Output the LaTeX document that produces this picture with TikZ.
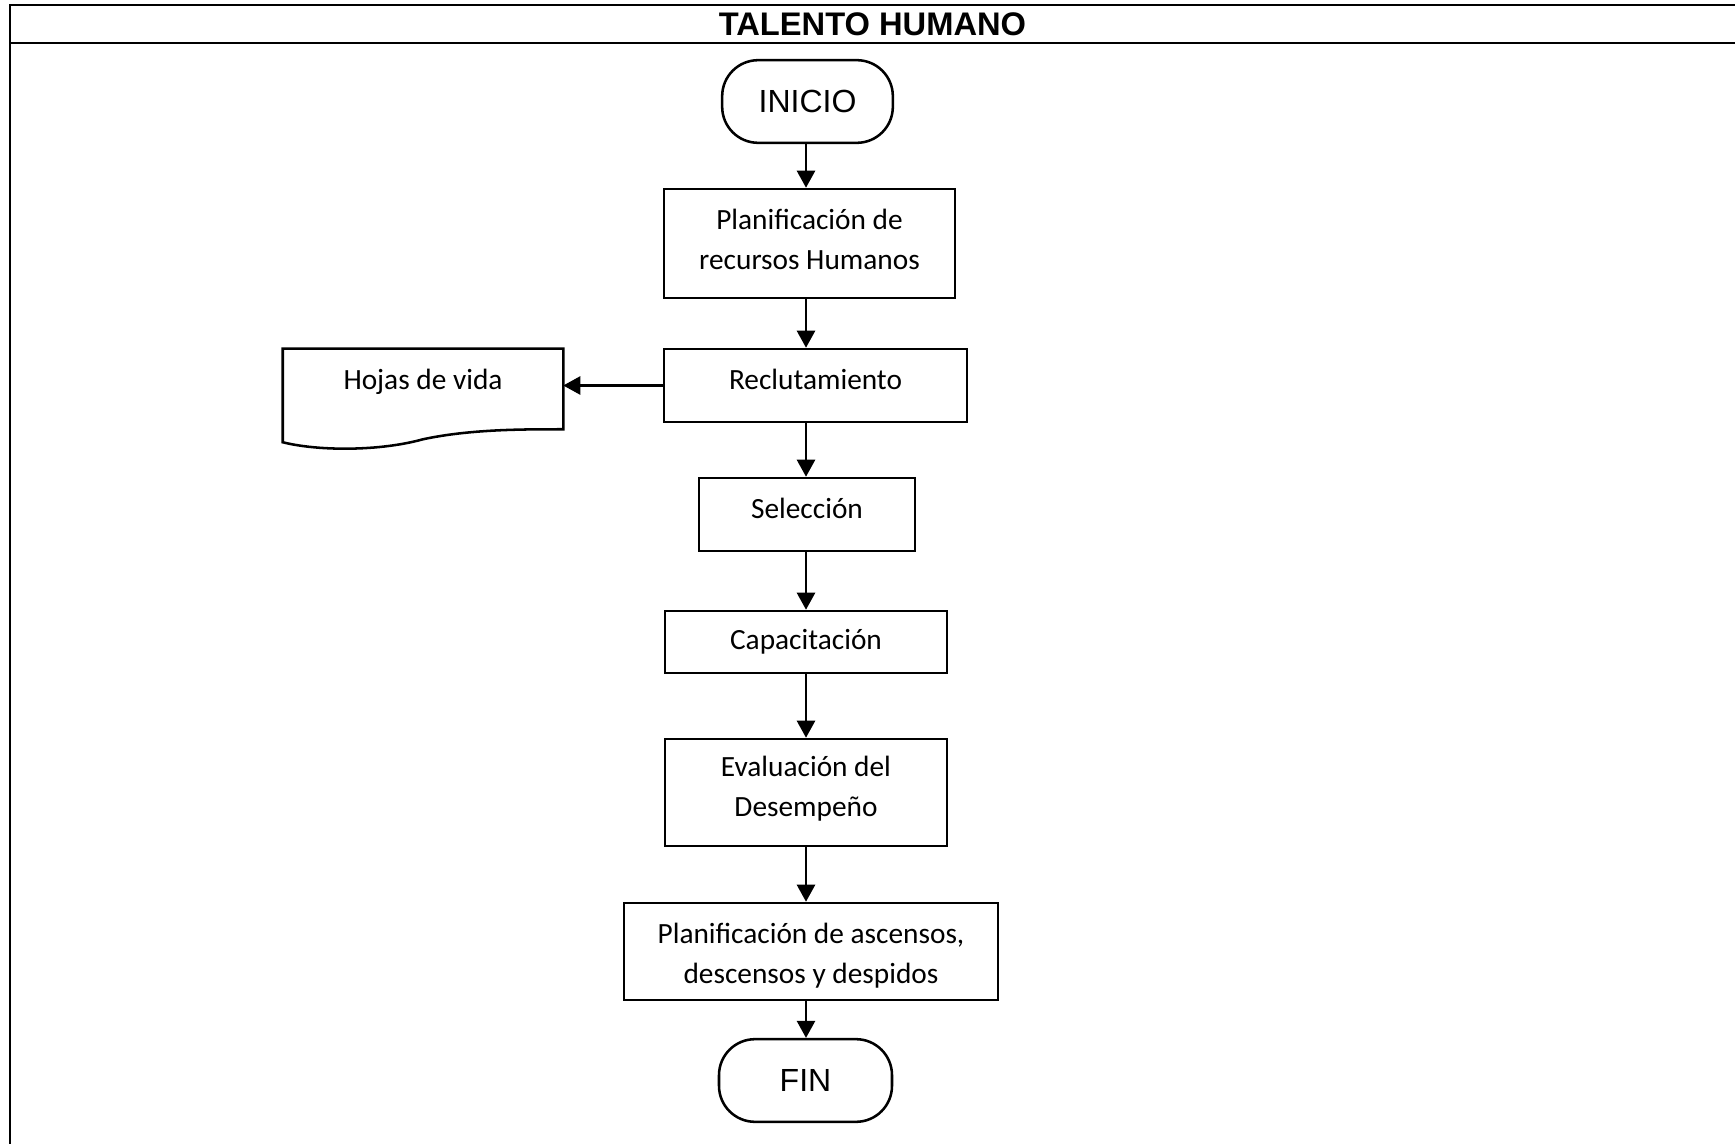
\documentclass[tikz,border=0pt]{standalone}
\usepackage{fontspec}
\setmainfont{Carlito}
\newfontfamily\arialfont{Liberation Sans}
\usetikzlibrary{arrows.meta,calc}

% invisible rule that sets the height of the first line of a step box
\newcommand{\firstlift}[1]{\rule{0pt}{#1}}

\begin{document}
\begin{tikzpicture}[x=0.75pt,y=-0.75pt,
  frame/.style={line width=1.5pt},
  stepbox/.style={draw, line width=1.9pt, inner sep=0pt, align=center,
    font=\fontsize{22pt}{29.8pt}\selectfont,
    execute at begin node=\strut, execute at end node=\strut},
  terminal/.style={draw, line width=1.9pt, inner sep=0pt, rounded corners=27pt,
    minimum width=128pt, minimum height=62pt,
    font=\arialfont\fontsize{24pt}{28pt}\selectfont},
  docshape/.style={line width=1.9pt},
  arr/.style={line width=1.9pt, -{Triangle[length=12.75pt,width=13.5pt]}}
]
\useasboundingbox (0,0) rectangle (1735,1144);

% table frame and heading row
\draw[frame] (10,1144) -- (10,5) -- (1735,5);
\draw[frame] (10,43) -- (1735,43);
\node[font=\arialfont\bfseries\fontsize{24.5pt}{28pt}\selectfont] (title) at (872.5,24) {TALENTO HUMANO};

% column axis for the vertical connectors
\coordinate (axis) at (806,0);

% flow steps
\node[terminal] (ini) at (807.5,101.5) {INICIO};
\node[stepbox, minimum width=218.25pt, minimum height=81.75pt] (plan) at (809.5,243.5)
  {\firstlift{17.4pt}Planificación de\\recursos Humanos};
\node[stepbox, text depth=14.8pt, minimum width=227.25pt, minimum height=54.75pt] (rec) at (815.5,385.5)
  {Reclutamiento};
\node[stepbox, text depth=14.8pt, minimum width=162pt, minimum height=54.75pt] (sel) at (807,514.5)
  {Selección};
\node[stepbox, minimum width=211.5pt, minimum height=46.5pt] (cap) at (806,642)
  {Capacitación};
\node[stepbox, minimum width=211.5pt, minimum height=80.25pt] (eval) at (806,792.5)
  {Evaluación del\\Desempeño};
\node[stepbox, minimum width=280.5pt, minimum height=72.75pt] (asc) at (811,951.5)
  {\firstlift{26.5pt}Planificación de ascensos,\\descensos y despidos};
\node[terminal, minimum width=129.75pt] (fin) at (805.5,1080.5) {FIN};

% document symbol
\node[stepbox, draw=none, text depth=20.5pt, minimum width=208.5pt, minimum height=58.5pt] (hojas) at (423,389)
  {Hojas de vida};
\draw[docshape] (hojas.north west) -- (hojas.north east) -- (hojas.south east)
  .. controls +(-42,0) and +(47,-10) .. ($(hojas.south)+(0,10)$)
  .. controls +(-43,12) and +(36,9) .. ($(hojas.south west)+(0,13)$) -- cycle;

% connectors
\draw[arr] (ini.south -| axis) -- (plan.north -| axis);
\draw[arr] (plan.south -| axis) -- (rec.north -| axis);
\draw[arr] (rec.west) -- (rec.west -| hojas.east);
\draw[arr] (rec.south -| axis) -- (sel.north -| axis);
\draw[arr] (sel.south -| axis) -- (cap.north -| axis);
\draw[arr] (cap.south -| axis) -- (eval.north -| axis);
\draw[arr] (eval.south -| axis) -- (asc.north -| axis);
\draw[arr] (asc.south -| axis) -- (fin.north -| axis);
\end{tikzpicture}
\end{document}
